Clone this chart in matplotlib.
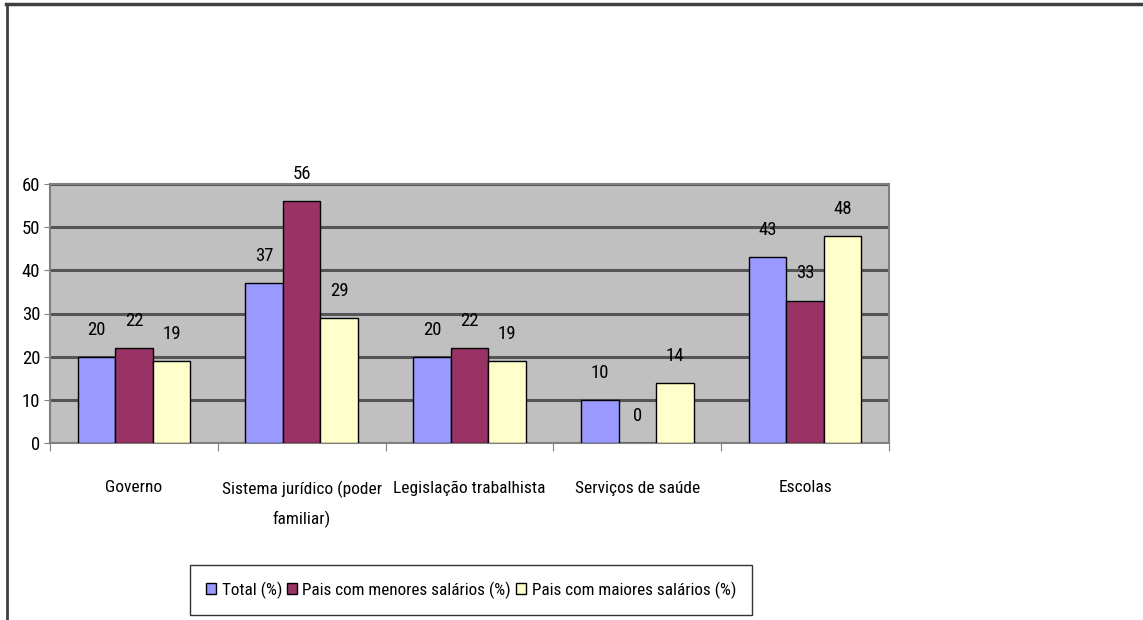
import numpy as np
import matplotlib
matplotlib.use("Agg")
import matplotlib.pyplot as plt
from matplotlib.lines import Line2D

plt.rcParams['font.family'] = ['Roboto Condensed', 'Liberation Sans Narrow', 'Liberation Sans', 'DejaVu Sans']

categorias = ['Governo', 'Sistema jurídico (poder\nfamiliar)', 'Legislação trabalhista',
              'Serviços de saúde', 'Escolas']
total = [20, 37, 20, 10, 43]
menores = [22, 56, 22, 0, 33]
maiores = [19, 29, 19, 14, 48]
series = ['Total (%)', 'Pais com menores salários (%)', 'Pais com maiores salários (%)']
cores = ['#9999FF', '#993366', '#FFFFCC']

fig = plt.figure(figsize=(11.43, 6.2), dpi=100)
ax = fig.add_axes([50 / 1143, 1 - 443 / 620, 839 / 1143, 259 / 620])

x = np.arange(len(categorias))
w = 0.224
for i, (vals, nome, cor) in enumerate(zip([total, menores, maiores], series, cores)):
    b = ax.bar(x + (i - 1) * w, vals, w, color=cor, edgecolor='black', linewidth=1,
               label=nome, zorder=3)
    ax.bar_label(b, padding=13, fontsize=13.5)

ax.set_facecolor('#C0C0C0')
ax.set_xlim(-0.5, len(categorias) - 0.5)
ax.set_ylim(0, 60)
ax.set_yticks(range(0, 61, 10))
ax.yaxis.grid(True, color='#555555', linewidth=2.2, zorder=0)
ax.set_axisbelow(True)

ax.set_xticks(np.arange(-0.5, len(categorias), 1))
ax.set_xticklabels([])
ax.set_xticks(x, minor=True)
ax.set_xticklabels(categorias, minor=True, fontsize=12.5, va='top', linespacing=1.95)
ax.tick_params(axis='x', which='minor', length=0, pad=27)
ax.tick_params(axis='x', which='major', length=6, color='#808080')
ax.tick_params(axis='y', length=4, color='#808080', labelsize=13.5, pad=3)

for s in ax.spines.values():
    s.set_color('#808080')
    s.set_linewidth(1.5)

leg = fig.legend(loc='center', bbox_to_anchor=(471 / 1143, 1 - 590 / 620), ncol=3,
                 fontsize=12.3, frameon=True, fancybox=False, edgecolor='black',
                 handlelength=0.6, handleheight=0.6, handletextpad=0.3,
                 columnspacing=0.3, borderpad=0.95)
leg.get_frame().set_linewidth(1.0)

# moldura externa
fig.add_artist(Line2D([6 / 1143, 1], [1 - 4 / 620, 1 - 4 / 620], color='#404040',
                      linewidth=2.5, transform=fig.transFigure))
fig.add_artist(Line2D([7 / 1143, 7 / 1143], [0, 1 - 4 / 620], color='#404040',
                      linewidth=2, transform=fig.transFigure))

fig.savefig('out.png', dpi=100)
